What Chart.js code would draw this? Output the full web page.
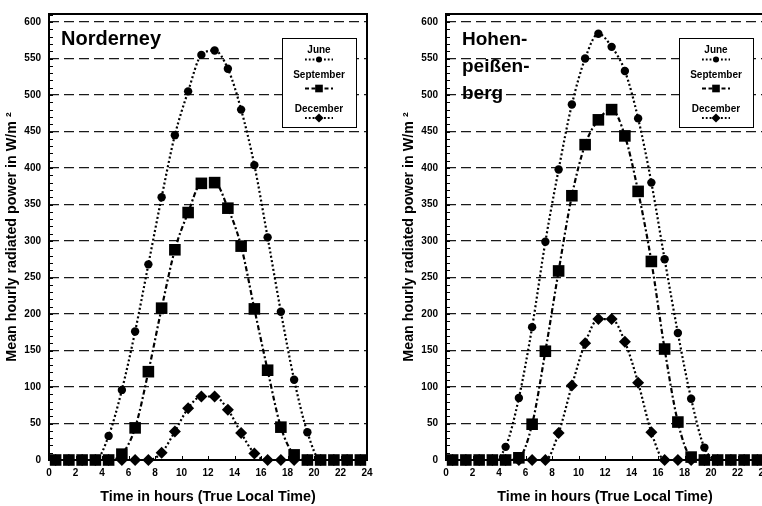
<!DOCTYPE html>
<html>
<head>
<meta charset="utf-8">
<script src="https://cdn.jsdelivr.net/npm/chart.js@4.4.0/dist/chart.umd.min.js"></script>
<style>
  html, body { margin: 0; padding: 0; background: #fff; }
  body { width: 762px; height: 506px; overflow: hidden; position: relative; }
  .panel { position: absolute; top: 0; width: 385px; height: 506px; }
  #panel-left { left: 0; }
  #panel-right { left: 397px; }
</style>
</head>
<body>
<div class="panel" id="panel-left"><canvas id="chart-norderney" width="385" height="506"></canvas></div>
<div class="panel" id="panel-right"><canvas id="chart-hohen" width="385" height="506"></canvas></div>
<script>
// Hour of day (mid-hour, true local time)
const HOURS = [0.5, 1.5, 2.5, 3.5, 4.5, 5.5, 6.5, 7.5, 8.5, 9.5, 10.5, 11.5,
               12.5, 13.5, 14.5, 15.5, 16.5, 17.5, 18.5, 19.5, 20.5, 21.5, 22.5, 23.5];

// Norderney, mean hourly radiated power in W/m²
const NORDERNEY_JUNE = [0, 0, 0, 0, 33, 96, 176, 268, 360, 445, 505, 555,
                        561, 536, 480, 404, 305, 203, 110, 38, 0, 0, 0, 0];
const NORDERNEY_SEPTEMBER = [0, 0, 0, 0, 0, 8, 44, 121, 208, 288, 339, 379,
                             380, 345, 293, 207, 123, 45, 7, 0, 0, 0, 0, 0];
const NORDERNEY_DECEMBER = [0, 0, 0, 0, 0, 0, 0, 0, 10, 39, 71, 87,
                            87, 69, 37, 9, 0, 0, 0, 0, 0, 0, 0, 0];

// Hohenpeißenberg
const HOHEN_JUNE = [0, 0, 0, 0, 18, 85, 182, 299, 398, 487, 550, 584,
                    566, 533, 468, 380, 275, 174, 84, 17, 0, 0, 0, 0];
const HOHEN_SEPTEMBER = [0, 0, 0, 0, 0, 3, 49, 149, 259, 362, 432, 466,
                         480, 444, 368, 272, 152, 52, 4, 0, 0, 0, 0, 0];
const HOHEN_DECEMBER = [0, 0, 0, 0, 0, 0, 0, 0, 37, 102, 160, 193,
                        193, 162, 106, 38, 0, 0, 0, 0, 0, 0, 0, 0];

const X_TICKS = [0, 2, 4, 6, 8, 10, 12, 14, 16, 18, 20, 22, 24];
const Y_TICKS = [0, 50, 100, 150, 200, 250, 300, 350, 400, 450, 500, 550, 600];
const Y_MAX = 611;
const Y_MINOR_STEP = 10;

const FONT = "'Liberation Sans', Arial, sans-serif";

// Frame, inner ticks, station name and the boxed legend
const panelDecor = {
  id: 'panelDecor',
  beforeDatasetsDraw(chart, args, opts) {
    const { ctx, chartArea: a, scales: { x, y } } = chart;
    ctx.save();

    // minor ticks on the value axis, pointing inward
    ctx.strokeStyle = '#000';
    ctx.lineWidth = 1;
    ctx.beginPath();
    for (let v = Y_MINOR_STEP; v < Y_MAX; v += Y_MINOR_STEP) {
      const py = Math.round(y.getPixelForValue(v)) + 0.5;
      ctx.moveTo(a.left, py);
      ctx.lineTo(a.left + 4, py);
    }
    X_TICKS.forEach(v => {
      const px = Math.round(x.getPixelForValue(v)) + 0.5;
      ctx.moveTo(px, a.bottom);
      ctx.lineTo(px, a.bottom - 4);
    });
    ctx.stroke();

    // plot frame
    ctx.lineWidth = 2;
    ctx.strokeRect(a.left, a.top, a.right - a.left, a.bottom - a.top);

    // station name
    ctx.fillStyle = '#000';
    ctx.font = `bold ${opts.size}px ${FONT}`;
    ctx.textAlign = 'left';
    ctx.textBaseline = 'alphabetic';
    opts.lines.forEach((line, i) => {
      ctx.fillText(line, a.left + opts.dx, a.top + 31 + i * 27);
    });

    // legend box
    const bw = 74, bh = 89;
    const bx = a.right - 85, by = a.top + 23.5;
    ctx.fillStyle = '#fff';
    ctx.fillRect(bx, by, bw, bh);
    ctx.lineWidth = 1;
    ctx.strokeStyle = '#000';
    ctx.strokeRect(Math.round(bx) + 0.5, Math.round(by) + 0.5, bw, bh);

    const cx = bx + bw / 2;
    const textOffsets = [12.5, 38, 71.5];
    const markOffsets = [22, 51, 80.5];
    const markRadius = { circle: 3, rect: 5.4, rectRot: 4.6 };
    ctx.font = `bold 10px ${FONT}`;
    ctx.textAlign = 'center';
    ctx.textBaseline = 'middle';
    chart.data.datasets.forEach((ds, i) => {
      ctx.fillStyle = '#000';
      ctx.fillText(ds.label, cx, by + textOffsets[i]);
      const my = by + markOffsets[i];
      ctx.save();
      ctx.lineWidth = 1.8;
      ctx.setLineDash(ds.pointStyle === 'rect' ? [4, 2.5] : [1.8, 2]);
      ctx.beginPath();
      ctx.moveTo(cx - 14, my);
      ctx.lineTo(cx + 14, my);
      ctx.stroke();
      ctx.restore();
      ctx.fillStyle = '#000';
      Chart.helpers.drawPoint(ctx, {
        pointStyle: ds.pointStyle,
        radius: markRadius[ds.pointStyle],
        rotation: 0,
        borderWidth: 0
      }, cx, my);
    });

    ctx.restore();
  }
};

function seriesDataset(label, values, pointStyle, radius, dash, order) {
  return {
    label: label,
    data: HOURS.map((h, i) => ({ x: h, y: values[i] })),
    borderColor: '#000',
    backgroundColor: '#000',
    borderWidth: 2.2,
    borderDash: dash,
    borderCapStyle: 'butt',
    pointStyle: pointStyle,
    pointRadius: radius,
    pointBorderWidth: 0,
    pointBackgroundColor: '#000',
    cubicInterpolationMode: 'monotone',
    clip: false,
    order: order
  };
}

function makeChart(canvasId, titleLines, titleSize, titleDx, june, september, december) {
  const ctx = document.getElementById(canvasId).getContext('2d');
  return new Chart(ctx, {
    type: 'line',
    data: {
      datasets: [
        seriesDataset('June', june, 'circle', 4.2, [2, 2.4], 1),
        seriesDataset('September', september, 'rect', 8.2, [5, 2.5, 2, 2.5], 0),
        seriesDataset('December', december, 'rectRot', 6, [2, 2.4], 2)
      ]
    },
    options: {
      responsive: false,
      animation: false,
      layout: { padding: { left: 0, right: 18, top: 7, bottom: 0 } },
      plugins: {
        legend: { display: false },
        tooltip: { enabled: false },
        panelDecor: { lines: titleLines, size: titleSize, dx: titleDx }
      },
      scales: {
        x: {
          type: 'linear',
          min: 0,
          max: 24,
          afterBuildTicks: s => { s.ticks = X_TICKS.map(v => ({ value: v })); },
          afterFit: s => { s.height = 46; },
          grid: { display: false, drawTicks: false },
          border: { display: false },
          ticks: {
            color: '#000',
            autoSkip: false,
            maxRotation: 0,
            padding: 7,
            font: { family: FONT, size: 10, weight: 'bold' }
          },
          title: {
            display: true,
            text: 'Time in hours (True Local Time)',
            color: '#000',
            font: { family: FONT, size: 14.3, weight: 'bold' },
            padding: { top: 0, bottom: 0 }
          }
        },
        y: {
          min: 0,
          max: Y_MAX,
          afterBuildTicks: s => { s.ticks = Y_TICKS.map(v => ({ value: v })); },
          afterFit: s => { s.width = 49; },
          grid: {
            drawTicks: false,
            lineWidth: 1.3,
            color: c => (c.tick && c.tick.value === 0) ? 'rgba(0,0,0,0)' : '#1a1a1a'
          },
          border: { display: false, dash: [10, 5] },
          ticks: {
            color: '#000',
            padding: 8,
            font: { family: FONT, size: 10, weight: 'bold' }
          },
          title: {
            display: true,
            text: 'Mean hourly radiated power in W/m ²',
            color: '#000',
            font: { family: FONT, size: 14.3, weight: 'bold' },
            padding: { top: 3.5, bottom: 0 }
          }
        }
      }
    },
    plugins: [panelDecor]
  });
}

makeChart('chart-norderney', ['Norderney'], 20, 12,
          NORDERNEY_JUNE, NORDERNEY_SEPTEMBER, NORDERNEY_DECEMBER);
makeChart('chart-hohen', ['Hohen-', 'peißen-', 'berg'], 19, 16,
          HOHEN_JUNE, HOHEN_SEPTEMBER, HOHEN_DECEMBER);
</script>
</body>
</html>
